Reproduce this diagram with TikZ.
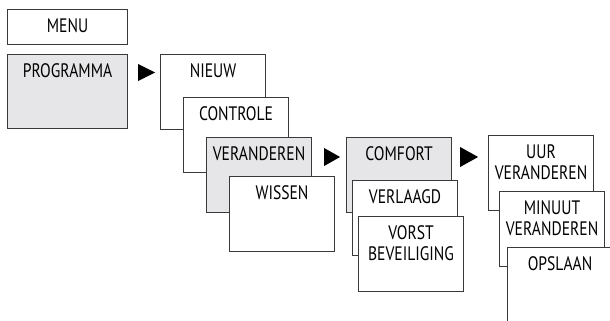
\documentclass[tikz,border=0pt]{standalone}
\usepackage{fontspec}
\setmainfont[FakeStretch=0.80]{PT Sans}
\usepackage{tikz}
\usetikzlibrary{calc,positioning}

\definecolor{menugray}{HTML}{E6E6E8}
\definecolor{menuline}{HTML}{3A3A3A}

\tikzset{
    menubox/.style={draw=menuline, line width=1.1pt, fill=white, anchor=north west,
        minimum width=105pt, inner xsep=0pt, inner ysep=10pt, align=center,
        font=\fontsize{19.5}{21}\selectfont, text height=13pt, text depth=42pt},
    twoline/.style={text height=34pt, text depth=21pt},
    selbox/.style={menubox, fill=menugray},
    tip/.style={fill=black}
}

\begin{document}
\begin{tikzpicture}[x=1pt, y=-1pt]
    \useasboundingbox (0,0) rectangle (610,321);

    \node[menubox, minimum width=120pt, text depth=2pt, inner ysep=10pt] (menu) at (7, 9) {MENU};
    \node[selbox, minimum width=120pt, text depth=41pt] (prog) at (7, 54) {PROGRAMMA};

    \node[menubox] (nieuw) at (160, 54) {NIEUW};
    \node[menubox] (controle) at (183, 97) {CONTROLE};
    \node[selbox] (veranderen) at (206, 137) {VERANDEREN};
    \node[menubox] (wissen) at (229, 176) {WISSEN};

    \node[selbox] (comfort) at (346, 137) {COMFORT};
    \node[menubox] (verlaagd) at (352, 180) {VERLAAGD};
    \node[menubox, twoline] (vorst) at (358, 216) {VORST\\BEVEILIGING};

    \node[menubox, twoline] (uur) at (488, 135) {UUR\\VERANDEREN};
    \node[menubox, twoline] (minuut) at (499, 191) {MINUUT\\VERANDEREN};
    \node[menubox] (opslaan) at (507, 247) {OPSLAAN};

    % pointers
    \fill[tip] ($(prog.north east)+(10,10)$) -- ++(17,8.5) -- ++(-17,8.5) -- cycle;
    \fill[tip] ($(veranderen.north east)+(12,11)$) -- ++(16,9) -- ++(-16,9) -- cycle;
    \fill[tip] ($(comfort.north east)+(8,10)$) -- ++(18,10) -- ++(-18,10) -- cycle;
\end{tikzpicture}
\end{document}
